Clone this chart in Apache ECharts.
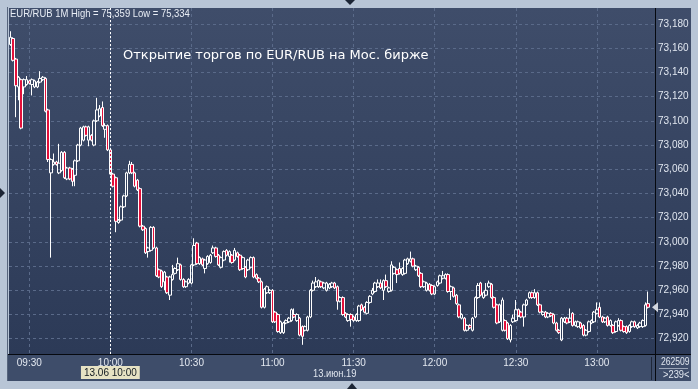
<!DOCTYPE html>
<html><head><meta charset="utf-8">
<script src="https://cdn.jsdelivr.net/npm/echarts/dist/echarts.min.js"></script>
<style>html,body{margin:0;padding:0;background:#b8c5d6;}#c{width:698px;height:389px;}</style>
</head><body><div id="c"></div>
<script>
const startTime = '09:23';
const barCount = 239;
const timeLabels = ['09:30','10:00','10:30','11:00','11:30','12:00','12:30','13:00'];
const priceTicks = [72.92,72.94,72.96,72.98,73.00,73.02,73.04,73.06,73.08,73.10,73.12,73.14,73.16,73.18];
const yMin = 72.9074, yMax = 73.1932;
const markerTime = '10:00';
const markerLabel = '13.06 10:00';
const dateLabel = '13.июн.19';
const titleText = 'EUR/RUB 1M High = 75,359 Low = 75,334';
const noteText = 'Открытие торгов по EUR/RUB на Мос. бирже';
const cornerTop = '262509', cornerBottom = '>239<';

const opens = [
73.163,73.168,73.151,73.128,73.134,73.128,73.130,73.133,73.130,73.128,
73.128,73.132,73.134,73.135,73.109,73.057,73.064,73.066,73.057,73.059,
73.074,73.052,73.061,73.060,73.055,73.067,73.080,73.084,73.095,73.084,
73.088,73.080,73.100,73.104,73.111,73.093,73.096,73.076,73.056,73.053,
73.016,73.018,73.029,73.038,73.057,73.064,73.057,73.051,73.044,73.013,
73.011,72.992,72.993,73.012,72.995,72.977,72.976,72.967,72.971,72.956,
72.969,72.974,72.977,72.981,72.969,72.963,72.966,72.966,72.981,72.999,
72.982,72.986,72.978,72.982,72.983,72.991,72.995,72.989,72.979,72.985,
72.993,72.988,72.989,72.985,72.991,72.989,72.978,72.979,72.977,72.979,
72.987,72.973,72.970,72.967,72.946,72.958,72.958,72.960,72.942,72.940,
72.925,72.925,72.933,72.934,72.935,72.940,72.935,72.937,72.930,72.927,
72.927,72.938,72.960,72.963,72.963,72.967,72.962,72.960,72.962,72.963,
72.966,72.963,72.951,72.954,72.941,72.935,72.940,72.938,72.935,72.935,
72.948,72.946,72.941,72.950,72.957,72.959,72.963,72.966,72.960,72.968,
72.959,72.960,72.974,72.977,72.978,72.973,72.974,72.982,72.984,72.986,
72.977,72.979,72.974,72.963,72.960,72.965,72.964,72.957,72.964,72.966,
72.970,72.970,72.973,72.959,72.962,72.956,72.948,72.937,72.937,72.927,
72.931,72.927,72.938,72.954,72.966,72.954,72.956,72.963,72.965,72.954,
72.948,72.934,72.927,72.935,72.933,72.919,72.934,72.935,72.944,72.942,
72.938,72.948,72.954,72.958,72.954,72.958,72.948,72.940,72.942,72.938,
72.941,72.940,72.933,72.927,72.919,72.934,72.937,72.934,72.941,72.931,
72.930,72.933,72.931,72.923,72.926,72.933,72.934,72.941,72.946,72.938,
72.934,72.938,72.931,72.931,72.926,72.931,72.935,72.930,72.930,72.926,
72.930,72.934,72.929,72.930,72.930,72.931,72.949];
const closes = [
73.169,73.150,73.129,73.136,73.094,73.134,73.134,73.131,73.134,73.133,
73.132,73.135,73.136,73.108,73.068,73.068,73.066,73.064,73.065,73.074,
73.053,73.061,73.052,73.050,73.067,73.080,73.094,73.095,73.088,73.095,
73.084,73.100,73.109,73.110,73.096,73.096,73.076,73.056,73.046,73.017,
73.018,73.029,73.038,73.057,73.064,73.057,73.046,73.043,73.013,73.010,
72.991,72.995,73.012,72.995,72.972,72.971,72.963,72.975,72.958,72.971,
72.973,72.978,72.982,72.969,72.963,72.967,72.969,72.981,72.997,72.982,
72.987,72.981,72.985,72.988,72.989,72.995,72.988,72.981,72.987,72.992,
72.989,72.992,72.983,72.993,72.988,72.977,72.987,72.971,72.985,72.987,
72.971,72.970,72.967,72.946,72.961,72.963,72.960,72.934,72.934,72.926,
72.934,72.933,72.935,72.937,72.944,72.938,72.940,72.923,72.922,72.930,
72.938,72.960,72.966,72.967,72.968,72.963,72.966,72.966,72.965,72.966,
72.962,72.951,72.954,72.940,72.938,72.940,72.936,72.935,72.940,72.947,
72.944,72.942,72.950,72.955,72.960,72.966,72.966,72.962,72.968,72.963,
72.962,72.981,72.979,72.973,72.974,72.978,72.985,72.986,72.986,72.980,
72.980,72.972,72.963,72.967,72.966,72.960,72.957,72.963,72.967,72.972,
72.972,72.973,72.959,72.963,72.955,72.949,72.938,72.940,72.927,72.931,
72.929,72.937,72.954,72.964,72.956,72.958,72.960,72.966,72.954,72.946,
72.933,72.948,72.952,72.927,72.920,72.931,72.937,72.944,72.939,72.938,
72.948,72.952,72.958,72.954,72.958,72.948,72.942,72.942,72.938,72.941,
72.939,72.933,72.927,72.925,72.937,72.937,72.933,72.937,72.931,72.934,
72.934,72.929,72.923,72.927,72.934,72.935,72.942,72.944,72.938,72.934,
72.937,72.931,72.935,72.925,72.934,72.935,72.927,72.926,72.925,72.931,
72.934,72.930,72.931,72.933,72.935,72.948,72.946];
const lows = [
73.162,73.149,73.103,73.117,73.093,73.122,73.129,73.130,73.121,73.127,
73.127,73.131,73.133,73.107,73.066,72.987,73.063,73.063,73.056,73.058,
73.052,73.051,73.051,73.046,73.046,73.066,73.079,73.083,73.087,73.079,
73.083,73.079,73.099,73.103,73.095,73.086,73.075,73.055,73.045,73.008,
73.015,73.017,73.028,73.037,73.056,73.056,73.045,73.042,73.012,73.009,
72.990,72.987,72.992,72.994,72.971,72.970,72.962,72.960,72.957,72.952,
72.968,72.973,72.976,72.968,72.962,72.962,72.965,72.965,72.980,72.981,
72.981,72.980,72.974,72.981,72.982,72.990,72.987,72.980,72.978,72.984,
72.988,72.983,72.982,72.984,72.987,72.976,72.977,72.970,72.976,72.978,
72.970,72.969,72.966,72.945,72.945,72.957,72.957,72.933,72.933,72.925,
72.924,72.924,72.932,72.933,72.934,72.937,72.934,72.922,72.915,72.926,
72.926,72.937,72.959,72.962,72.962,72.962,72.961,72.959,72.961,72.962,
72.961,72.944,72.950,72.939,72.937,72.934,72.930,72.934,72.934,72.934,
72.943,72.941,72.940,72.949,72.956,72.958,72.962,72.961,72.952,72.962,
72.958,72.959,72.973,72.966,72.973,72.972,72.973,72.981,72.983,72.979,
72.976,72.971,72.962,72.962,72.959,72.959,72.956,72.956,72.963,72.965,
72.969,72.969,72.958,72.952,72.954,72.948,72.937,72.936,72.926,72.926,
72.928,72.926,72.937,72.953,72.955,72.953,72.955,72.962,72.953,72.945,
72.932,72.933,72.926,72.926,72.919,72.917,72.933,72.934,72.938,72.937,
72.930,72.947,72.953,72.953,72.953,72.947,72.941,72.939,72.937,72.937,
72.938,72.932,72.926,72.924,72.918,72.933,72.932,72.933,72.930,72.930,
72.929,72.928,72.922,72.922,72.925,72.932,72.933,72.940,72.937,72.933,
72.933,72.930,72.930,72.924,72.925,72.930,72.926,72.925,72.924,72.925,
72.929,72.929,72.928,72.929,72.929,72.930,72.945];
const highs = [
73.174,73.169,73.152,73.137,73.135,73.135,73.137,73.134,73.135,73.134,
73.133,73.141,73.137,73.136,73.110,73.069,73.073,73.067,73.081,73.075,
73.075,73.062,73.062,73.061,73.068,73.081,73.095,73.096,73.096,73.096,
73.089,73.101,73.119,73.113,73.116,73.098,73.097,73.077,73.057,73.054,
73.019,73.030,73.039,73.058,73.067,73.066,73.058,73.052,73.045,73.014,
73.012,72.996,73.013,73.013,72.996,72.978,72.977,72.976,72.972,72.972,
72.981,72.979,72.987,72.982,72.970,72.968,72.970,72.982,73.003,73.000,
72.988,72.987,72.986,72.989,72.990,72.997,72.996,72.990,72.988,72.993,
72.994,72.993,72.990,72.995,72.992,72.990,72.988,72.980,72.986,72.988,
72.988,72.974,72.971,72.968,72.962,72.964,72.961,72.961,72.943,72.941,
72.935,72.934,72.936,72.938,72.945,72.945,72.941,72.938,72.931,72.931,
72.939,72.961,72.968,72.971,72.969,72.968,72.967,72.967,72.966,72.967,
72.967,72.964,72.955,72.955,72.942,72.941,72.941,72.939,72.941,72.948,
72.949,72.947,72.951,72.956,72.962,72.967,72.969,72.969,72.969,72.973,
72.963,72.984,72.980,72.978,72.983,72.979,72.986,72.987,72.992,72.987,
72.981,72.980,72.975,72.968,72.967,72.966,72.965,72.964,72.968,72.973,
72.976,72.974,72.974,72.964,72.963,72.957,72.949,72.941,72.938,72.932,
72.932,72.938,72.955,72.966,72.967,72.959,72.966,72.968,72.966,72.955,
72.949,72.949,72.954,72.936,72.934,72.932,72.940,72.952,72.945,72.943,
72.949,72.953,72.959,72.959,72.961,72.959,72.949,72.943,72.943,72.942,
72.942,72.941,72.934,72.928,72.938,72.938,72.938,72.945,72.942,72.935,
72.935,72.934,72.932,72.928,72.935,72.936,72.943,72.950,72.950,72.939,
72.938,72.939,72.936,72.932,72.935,72.937,72.936,72.931,72.931,72.932,
72.935,72.935,72.932,72.934,72.936,72.950,72.959];

const lastPrice = closes[closes.length - 1];

const categories = [];
{
  const [h0, m0] = startTime.split(':').map(Number);
  for (let k = 0; k < barCount; k++) {
    const t = h0 * 60 + m0 + k;
    categories.push(String(Math.floor(t / 60)).padStart(2, '0') + ':' + String(t % 60).padStart(2, '0'));
  }
}
const candles = opens.map((o, i) => [o, closes[i], lows[i], highs[i]]);
const fmt = v => Number(v).toFixed(3).replace('.', ',');

const SANS = '"Liberation Sans", Arial, sans-serif';
const gridColor = '#5a6a89';
const showTime = (i, v) => timeLabels.indexOf(v) >= 0;

const chart = echarts.init(document.getElementById('c'), null, {renderer: 'canvas'});
const bgGrad = () => new echarts.graphic.LinearGradient(0, 0, 0, 1, [
  {offset: 0, color: '#3f4d6a'}, {offset: 1, color: '#2c3a57'}]);
const narrowText = (x, y, text, align, fill, sx) => ({
  type: 'text', z: 50, silent: true, x: x, y: y, scaleX: sx, originX: 0,
  style: {text: text, fill: fill, font: '11px ' + SANS, textAlign: align, textVerticalAlign: 'middle'}
});

chart.setOption({
  animation: false,
  backgroundColor: '#b8c5d6',
  grid: {left: 9, right: 43, top: 8, bottom: 35, show: true, borderWidth: 0, backgroundColor: bgGrad()},
  xAxis: {
    type: 'category', data: categories, boundaryGap: true,
    axisLine: {show: false}, axisTick: {show: false},
    axisLabel: {interval: showTime, color: '#e3e8f0', fontSize: 10, fontFamily: SANS, margin: 4},
    splitLine: {show: true, interval: showTime, alignWithLabel: true, lineStyle: {color: gridColor, type: [3, 3], width: 1}}
  },
  yAxis: {
    type: 'value', position: 'right', min: yMin, max: yMax, scale: true,
    axisLine: {show: false}, axisTick: {show: false}, axisLabel: {show: false}, splitLine: {show: false}
  },
  series: [
    {
      type: 'line', data: [], silent: true,
      markLine: {
        silent: true, symbol: ['none', 'none'], z: 1, animation: false,
        lineStyle: {color: gridColor, type: [3, 3], width: 1},
        label: {show: true, position: 'end', formatter: p => fmt(p.value), color: '#e0e6ef', fontSize: 10, fontFamily: SANS, distance: 3},
        emphasis: {disabled: true},
        data: priceTicks.map(v => ({yAxis: v}))
      }
    },
    {
      type: 'candlestick', data: candles, barWidth: 3,
      itemStyle: {color: 'rgba(0,0,0,0)', color0: '#e3103a', borderColor: '#ffffff', borderColor0: '#ffffff', borderWidth: 1},
      markLine: {
        silent: true, symbol: ['none', 'none'], animation: false, z: 6,
        emphasis: {disabled: true},
        data: [
          {xAxis: markerTime, lineStyle: {color: '#ffffff', type: [2, 2], width: 1},
           label: {show: true, position: 'start', formatter: markerLabel, backgroundColor: '#e6e2c4', color: '#101820',
                   fontSize: 10, fontFamily: SANS, padding: [2, 3, 1, 3], distance: 12}},
          {yAxis: lastPrice, lineStyle: {opacity: 0},
           label: {show: true, position: 'end', formatter: fmt(lastPrice), backgroundColor: '#d2d6de', color: '#101828',
                   fontSize: 10, fontFamily: SANS, padding: [2, 3, 1, 3], distance: 3}}
        ]
      }
    }
  ],
  graphic: [
    {type: 'rect', z: -1, silent: true, shape: {x: 655, y: 8, width: 36, height: 346}, style: {fill: bgGrad()}},
    {type: 'rect', z: -1, silent: true, shape: {x: 8, y: 355, width: 683, height: 26}, style: {fill: '#3e4d6a'}},
    {type: 'line', z: 50, silent: true, shape: {x1: 8, y1: 354.5, x2: 691, y2: 354.5}, style: {stroke: '#06090f', lineWidth: 1}},
    {type: 'line', z: 50, silent: true, shape: {x1: 655.5, y1: 8, x2: 655.5, y2: 381}, style: {stroke: '#06090f', lineWidth: 1}},
    {type: 'line', z: 50, silent: true, shape: {x1: 651.5, y1: 357, x2: 651.5, y2: 380}, style: {stroke: '#1e2738', lineWidth: 1}},
    {type: 'line', z: 50, silent: true, shape: {x1: 7.5, y1: 7, x2: 7.5, y2: 381}, style: {stroke: '#56647c', lineWidth: 1}},
    {type: 'line', z: 50, silent: true, shape: {x1: 659, y1: 368.5, x2: 688, y2: 368.5}, style: {stroke: '#9aa5b8', lineWidth: 1}},
    narrowText(661, 362, cornerTop, 'left', '#e0e6ef', 0.78),
    narrowText(663, 375, cornerBottom, 'left', '#e0e6ef', 0.85),
    narrowText(313, 374, dateLabel, 'left', '#e0e6ef', 0.85),
    narrowText(10, 14, titleText, 'left', '#e8edf5', 0.86),
    {type: 'text', z: 50, silent: true, x: 123, y: 56, style: {text: noteText, fill: '#ffffff', font: '13px "DejaVu Sans", sans-serif', textAlign: 'left', textVerticalAlign: 'middle'}},
    {type: 'polygon', z: 50, silent: true, shape: {points: [[345, 0], [355, 0], [350, 5]]}, style: {fill: '#1c2535'}},
    {type: 'polygon', z: 50, silent: true, shape: {points: [[0, 188], [0, 198], [5, 193]]}, style: {fill: '#1c2535'}},
    {type: 'polygon', z: 50, silent: true, shape: {points: [[347, 389], [357, 389], [352, 383]]}, style: {fill: '#1c2535'}}
  ]
});

const py = chart.convertToPixel({yAxisIndex: 0}, lastPrice);
chart.setOption({graphic: [{type: 'polygon', id: 'tagArrow', z: 60, silent: true,
  shape: {points: [[652, py], [658, py - 5], [658, py + 5]]}, style: {fill: '#d2d6de'}}]});
</script>
</body></html>
